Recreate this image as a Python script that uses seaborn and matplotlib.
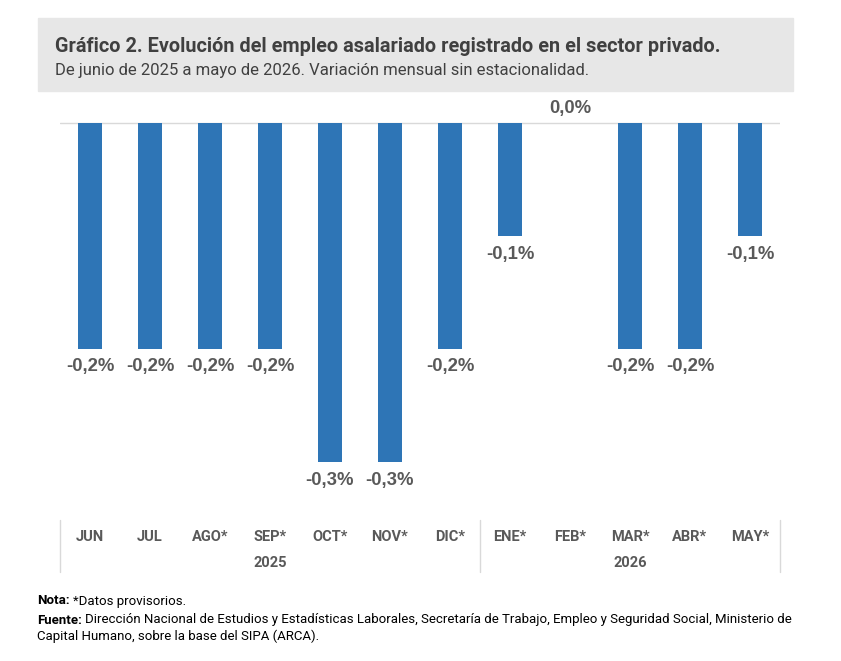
import numpy as np
import pandas as pd
import matplotlib.pyplot as plt
import matplotlib.transforms as mtransforms
from matplotlib.patches import Rectangle
import seaborn as sns

# monthly change in registered private-sector employment (%)
months = ["JUN", "JUL", "AGO*", "SEP*", "OCT*", "NOV*", "DIC*",
          "ENE*", "FEB*", "MAR*", "ABR*", "MAY*"]
variation = [-0.2, -0.2, -0.2, -0.2, -0.3, -0.3, -0.2, -0.1, 0.0, -0.2, -0.2, -0.1]
years = ["2025", "2026"]
months_per_year = [7, 5]

df = pd.DataFrame({"mes": months, "var": variation})

sns.set_style("white")
plt.rcParams["font.family"] = ["Roboto", "DejaVu Sans"]

W, H = 841, 661
fig = plt.figure(figsize=(W / 100, H / 100), dpi=100)


def px(x0, y0, x1, y1):
    return [x0 / W, 1 - y1 / H, (x1 - x0) / W, (y1 - y0) / H]


ax = fig.add_axes(px(60, 100, 780, 500))

bar_color = "#2E75B6"
grey = "#595959"

sns.barplot(data=df, x="mes", y="var", color=bar_color, width=0.41,
            saturation=1, ax=ax, order=months, linewidth=0)

zero_px = 123
scale = 1130.0  # px per unit
ax.set_ylim(-(500 - zero_px) / scale, (zero_px - 100) / scale)
ax.set_xlim(-0.5, len(months) - 0.5)
ax.axhline(0, color="#D9D9D9", lw=1, zorder=0)

for i, v in enumerate(variation):
    lab = f"{v:.1f}%".replace(".", ",")
    if v < 0:
        yy = v - 18 / scale
    else:
        yy = 15 / scale
    ax.text(i, yy, lab, ha="center", va="center", fontsize=13.3,
            fontweight="bold", color=grey, family="Liberation Sans")

ax.set_xlabel("")
ax.set_ylabel("")
ax.set_yticks([])
ax.set_xticks([])
for s in ax.spines.values():
    s.set_visible(False)

# two-level category axis
trans = mtransforms.blended_transform_factory(ax.transData, ax.transAxes)
y_month = -(537 - 500) / 400
y_year = -(563 - 500) / 400
for i, m in enumerate(months):
    ax.text(i, y_month, m, transform=trans, ha="center", va="center",
            fontsize=10.5, fontweight="bold", color=grey, clip_on=False)
start = 0
bounds = [-0.5]
for yr, n in zip(years, months_per_year):
    ax.text(start + (n - 1) / 2, y_year, yr, transform=trans, ha="center",
            va="center", fontsize=10.5, fontweight="bold", color=grey, clip_on=False)
    start += n
    bounds.append(start - 0.5)
for b in bounds:
    ax.plot([b, b], [-(520 - 500) / 400, -(572 - 500) / 400], transform=trans,
            color="#D9D9D9", lw=1, clip_on=False)

# title box
fig.patches.append(Rectangle((38 / W, 1 - 91 / H), (793 - 38) / W, (91 - 18) / H,
                             transform=fig.transFigure, color="#E7E7E7", zorder=0))
fig.text(55 / W, 1 - 47 / H, "Gráfico 2. Evolución del empleo asalariado registrado en el sector privado.",
         fontsize=14.3, fontweight="bold", color="#404040", va="center")
fig.text(55 / W, 1 - 71 / H, "De junio de 2025 a mayo de 2026. Variación mensual sin estacionalidad.",
         fontsize=12, color="#404040", va="center")

# footnotes
fig.canvas.draw()
renderer = fig.canvas.get_renderer()


def note(x, y, bold, rest):
    t = fig.text(x / W, 1 - y / H, bold, fontsize=9.5, fontweight="bold",
                 color="black", va="center")
    bb = t.get_window_extent(renderer)
    fig.text(bb.x1 / W + 3 / W, 1 - y / H, rest, fontsize=9.5, color="black", va="center")


note(37, 601, "Nota:", "*Datos provisorios.")
note(37, 620, "Fuente:", "Dirección Nacional de Estudios y Estadísticas Laborales, Secretaría de Trabajo, Empleo y Seguridad Social, Ministerio de")
fig.text(37 / W, 1 - 636 / H, "Capital Humano, sobre la base del SIPA (ARCA).",
         fontsize=9.5, color="black", va="center")

fig.savefig("out.png", dpi=100)
